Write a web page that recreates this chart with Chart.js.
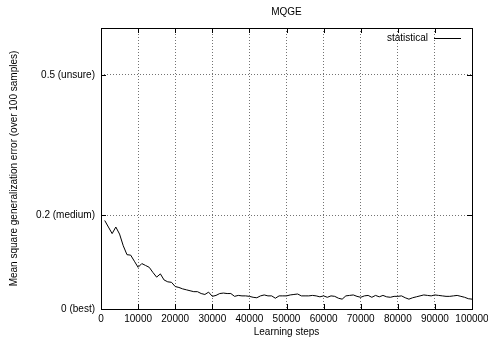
<!DOCTYPE html>
<html lang="en">
<head>
<meta charset="UTF-8">
<title>MQGE</title>
<script src="https://cdn.jsdelivr.net/npm/chart.js@4.4.0/dist/chart.umd.min.js"></script>
<style>
    body { margin: 0; background: #fff; }
    #wrap { width: 488px; height: 340px; }
</style>
</head>
<body>
<div id="wrap"><canvas id="myChart" width="488" height="340"></canvas></div>
<script>
// learning steps (x) and error values
const steps = [
    1000, 2000, 3000, 4000, 5000, 6000, 7000, 8000, 9000, 10000,
    11000, 12000, 13000, 14000, 15000, 16000, 17000, 18000, 19000, 20000,
    21000, 22000, 23000, 24000, 25000, 26000, 27000, 28000, 29000, 30000,
    31000, 32000, 33000, 34000, 35000, 36000, 37000, 38000, 39000, 40000,
    41000, 42000, 43000, 44000, 45000, 46000, 47000, 48000, 49000, 50000,
    51000, 52000, 53000, 54000, 55000, 56000, 57000, 58000, 59000, 60000,
    61000, 62000, 63000, 64000, 65000, 66000, 67000, 68000, 69000, 70000,
    71000, 72000, 73000, 74000, 75000, 76000, 77000, 78000, 79000, 80000,
    81000, 82000, 83000, 84000, 85000, 86000, 87000, 88000, 89000, 90000,
    91000, 92000, 93000, 94000, 95000, 96000, 97000, 98000, 99000, 100000
];
const statistical = [
    0.189, 0.175, 0.161, 0.175, 0.160, 0.135, 0.116, 0.115, 0.102, 0.089,
    0.097, 0.093, 0.089, 0.078, 0.068, 0.075, 0.062, 0.058, 0.057, 0.048,
    0.046, 0.043, 0.041, 0.039, 0.037, 0.037, 0.033, 0.031, 0.036, 0.027,
    0.029, 0.033, 0.034, 0.033, 0.033, 0.027, 0.029, 0.028, 0.028, 0.027,
    0.025, 0.024, 0.028, 0.030, 0.028, 0.028, 0.023, 0.028, 0.028, 0.028,
    0.030, 0.031, 0.032, 0.028, 0.028, 0.028, 0.029, 0.028, 0.026, 0.028,
    0.025, 0.028, 0.027, 0.023, 0.021, 0.028, 0.029, 0.030, 0.027, 0.025,
    0.028, 0.029, 0.025, 0.029, 0.026, 0.029, 0.026, 0.025, 0.027, 0.027,
    0.028, 0.024, 0.021, 0.024, 0.026, 0.028, 0.030, 0.029, 0.028, 0.030,
    0.029, 0.028, 0.027, 0.027, 0.028, 0.029, 0.027, 0.025, 0.022, 0.021
];
const yTickValues = [0, 0.2, 0.5];
const yTickLabels = ['0 (best)', '0.2 (medium)', '0.5 (unsure)'];

const FONT = 'Liberation Sans, Arial, Helvetica, sans-serif';
const DOT = 'rgba(0,0,0,0.55)';

// gnuplot style frame, inward ticks, title and legend
const gnuFrame = {
    id: 'gnuFrame',
    afterDraw(chart) {
        const c = chart.ctx, a = chart.chartArea;
        const xs = chart.scales.x, ys = chart.scales.y;
        c.save();
        c.strokeStyle = '#000';
        c.lineWidth = 1;
        c.strokeRect(a.left + 0.5, a.top + 0.5, a.right - a.left, a.bottom - a.top);
        c.beginPath();
        xs.ticks.forEach(function(t) {
            const px = Math.round(xs.getPixelForValue(t.value)) + 0.5;
            c.moveTo(px, a.bottom); c.lineTo(px, a.bottom - 5);
            c.moveTo(px, a.top); c.lineTo(px, a.top + 5);
        });
        ys.ticks.forEach(function(t) {
            const py = Math.round(ys.getPixelForValue(t.value)) + 0.5;
            c.moveTo(a.left, py); c.lineTo(a.left + 5, py);
            c.moveTo(a.right, py); c.lineTo(a.right - 5, py);
        });
        c.stroke();
        c.font = '10px ' + FONT;
        c.fillStyle = '#000';
        c.textBaseline = 'middle';
        // title centred over the plot
        c.textAlign = 'center';
        c.fillText('MQGE', (a.left + a.right) / 2, 12);
        // legend
        c.textAlign = 'right';
        c.fillText('statistical', 428, 38);
        c.beginPath();
        c.moveTo(434, 38.5); c.lineTo(461, 38.5);
        c.stroke();
        c.restore();
    }
};

const ctx = document.getElementById('myChart').getContext('2d');
const myChart = new Chart(ctx, {
    type: 'line',
    data: {
        datasets: [{
            label: 'statistical',
            data: steps.map(function(s, i) { return {x: s, y: statistical[i]}; }),
            borderColor: '#000',
            borderWidth: 1,
            pointRadius: 0,
            tension: 0,
            fill: false
        }]
    },
    options: {
        responsive: false,
        animation: false,
        layout: { padding: { left: 0, right: 0, top: 28, bottom: 0 } },
        plugins: {
            legend: { display: false },
            tooltip: { enabled: false },
            title: { display: false }
        },
        scales: {
            x: {
                type: 'linear',
                min: 0,
                max: 100000,
                afterFit: function(s) {
                    s.height = 31;
                    s.paddingLeft = 0;
                    s.paddingRight = 16;
                },
                ticks: {
                    stepSize: 10000,
                    color: '#000',
                    padding: 4,
                    maxRotation: 0,
                    autoSkip: false,
                    font: { family: FONT, size: 10 },
                    callback: function(v) { return String(v); }
                },
                grid: {
                    drawTicks: false,
                    color: function(c) {
                        return (c.tick && (c.tick.value === 0 || c.tick.value === 100000)) ? 'rgba(0,0,0,0)' : DOT;
                    },
                    lineWidth: 1
                },
                border: { display: false, dash: [1, 2] },
                title: {
                    display: true,
                    text: 'Learning steps',
                    color: '#000',
                    font: { family: FONT, size: 10 },
                    padding: { top: 0, bottom: 2 }
                }
            },
            y: {
                min: 0,
                max: 0.6,
                afterFit: function(s) { s.width = 101; },
                afterBuildTicks: function(s) {
                    s.ticks = yTickValues.map(function(v) { return {value: v}; });
                },
                ticks: {
                    color: '#000',
                    padding: 6,
                    font: { family: FONT, size: 10 },
                    callback: function(v) {
                        const i = yTickValues.indexOf(v);
                        return i >= 0 ? yTickLabels[i] : '';
                    }
                },
                grid: {
                    drawTicks: false,
                    color: function(c) {
                        return (c.tick && c.tick.value === 0) ? 'rgba(0,0,0,0)' : DOT;
                    },
                    lineWidth: 1
                },
                border: { display: false, dash: [1, 2] },
                title: {
                    display: true,
                    text: 'Mean square generalization error (over 100 samples)',
                    color: '#000',
                    font: { family: FONT, size: 10 },
                    padding: { top: 8, bottom: 0 }
                }
            }
        }
    },
    plugins: [gnuFrame]
});
</script>
</body>
</html>
